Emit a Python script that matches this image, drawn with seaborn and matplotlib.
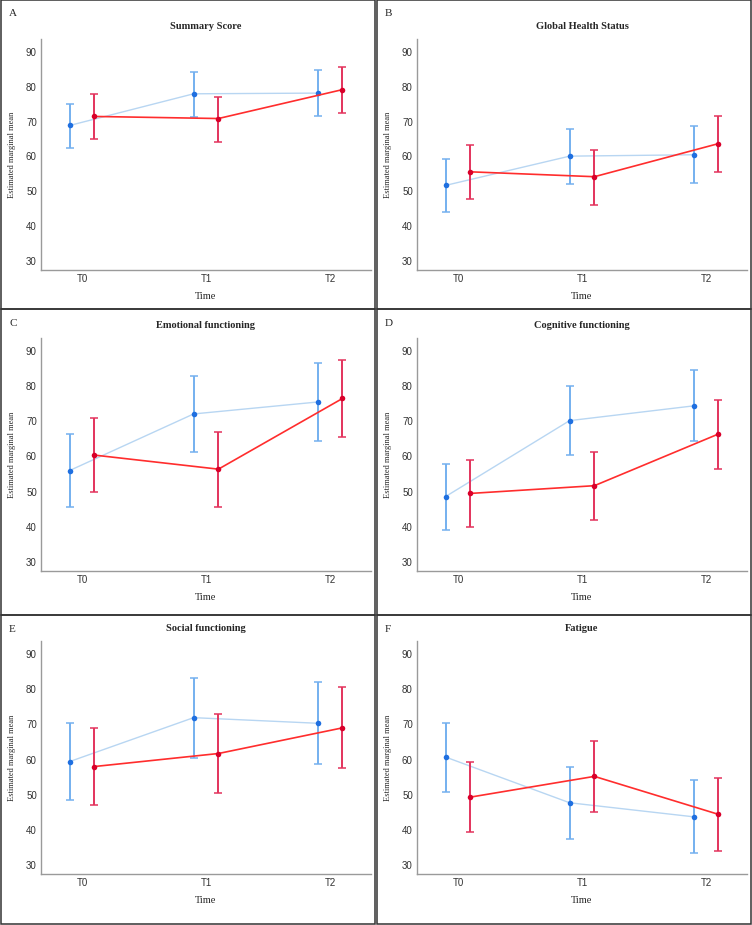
import numpy as np
import pandas as pd
import seaborn as sns
import matplotlib.pyplot as plt
from matplotlib.patches import Rectangle

# time points and panel labels
times = ["T0", "T1", "T2"]
letters = ["A", "B", "C", "D", "E", "F"]
titles = ["Summary Score", "Global Health Status", "Emotional functioning",
          "Cognitive functioning", "Social functioning", "Fatigue"]

# estimated marginal means with 95% CI, one row per panel
blue_mean = [[68.9, 78.0, 78.2], [51.7, 60.1, 60.5], [56.0, 72.1, 75.5],
             [48.6, 70.2, 74.4], [59.4, 71.9, 70.3], [60.7, 47.7, 43.7]]
blue_low = [[62.4, 71.3, 71.5], [44.0, 52.1, 52.4], [45.5, 61.3, 64.4],
            [39.1, 60.3, 64.4], [48.5, 60.5, 58.8], [50.8, 37.4, 33.3]]
blue_high = [[75.2, 84.4, 84.7], [59.2, 68.0, 68.7], [66.5, 82.8, 86.6],
             [57.9, 80.0, 84.5], [70.3, 83.2, 82.0], [70.5, 57.9, 54.3]]

red_mean = [[71.5, 70.9, 79.2], [55.6, 54.2, 63.7], [60.4, 56.4, 76.5],
            [49.5, 51.7, 66.4], [58.0, 61.7, 69.0], [49.3, 55.2, 44.4]]
red_low = [[64.9, 64.2, 72.6], [47.9, 46.2, 55.6], [49.8, 45.5, 65.5],
           [40.0, 42.0, 56.4], [47.0, 50.5, 57.5], [39.3, 45.1, 34.0]]
red_high = [[77.8, 77.1, 85.7], [63.3, 61.9, 71.6], [71.0, 67.0, 87.5],
            [58.9, 61.4, 76.2], [69.0, 72.8, 80.5], [59.2, 65.3, 54.6]]

sns.set_style("white")
plt.rcParams["font.family"] = ["Liberation Serif", "DejaVu Serif"]

W, H = 752, 925
fig = plt.figure(figsize=(W / 100, H / 100), dpi=100)

# layout in pixels
row_top = [0, 309, 615, 924]
row_y90 = [52, 351, 654]
row_y30 = [261, 562, 865]
ylo, yhi = 27.4, 93.7

x = np.arange(len(times))
series = [
    (blue_mean, blue_low, blue_high, -0.1, "#b8d6f2", 1.0, "#74b0ef", "#1f6fe0", 2),
    (red_mean, red_low, red_high, 0.1, "#ff2d2d", 1.2, "#e3335c", "#d9002a", 4),
]

for i in range(6):
    r, c = divmod(i, 2)
    s = (row_y30[r] - row_y90[r]) / 60
    top = row_y90[r] - (yhi - 90) * s
    bottom = row_y30[r] + (30 - ylo) * s
    left = c * 376 + 41
    right = c * 376 + 371
    ax = fig.add_axes([left / W, 1 - bottom / H, (right - left) / W, (bottom - top) / H])

    for mean, low, high, off, lcol, lw, ecol, pcol, z in series:
        m = np.array(mean[i])
        lo = np.array(low[i])
        hi = np.array(high[i])
        df = pd.DataFrame({"x": x + off, "y": m})
        sns.lineplot(data=df, x="x", y="y", ax=ax, color=lcol, lw=lw, zorder=z)
        ax.errorbar(x + off, m, yerr=[m - lo, hi - m], fmt="none", ecolor=ecol,
                    elinewidth=1.4, capsize=3, capthick=1.1, zorder=z + 0.5)
        sns.scatterplot(x=x + off, y=m, ax=ax, color=pcol, s=16, linewidth=0,
                        zorder=z + 1)

    ax.set_xlim(-0.33, 2.33)
    ax.set_ylim(ylo, yhi)
    ax.set_xticks(x)
    ax.set_xticklabels(times)
    ax.set_yticks([30, 40, 50, 60, 70, 80, 90])
    ax.tick_params(length=0, labelsize=7, labelcolor="#333333", pad=3)
    for lab in ax.get_xticklabels() + ax.get_yticklabels():
        lab.set_fontfamily(["Liberation Sans", "DejaVu Sans"])
    for sp in ["top", "right"]:
        ax.spines[sp].set_visible(False)
    for sp in ["left", "bottom"]:
        ax.spines[sp].set_color("#9a9a9a")
        ax.spines[sp].set_linewidth(1.0)

    ax.set_title(titles[i], fontsize=7.5, fontweight="bold", pad=7)
    ax.set_xlabel("Time", fontsize=7.5)
    ax.set_ylabel("Estimated marginal mean", fontsize=6)
    ax.xaxis.set_label_coords(0.5, -22 / (bottom - top))
    ax.yaxis.set_label_coords(-25 / (right - left), 0.5)

    # panel letter and border
    fig.text((c * 376 + 9) / W, 1 - (row_top[r] + 14) / H, letters[i],
             fontsize=8, va="center", ha="left")
    fig.add_artist(Rectangle((c * 376 / W + 0.001, 1 - row_top[r + 1] / H),
                             376 / W - 0.002, (row_top[r + 1] - row_top[r]) / H,
                             transform=fig.transFigure, fill=False,
                             edgecolor="#333333", linewidth=1.1))

fig.savefig("out.png", dpi=100)
